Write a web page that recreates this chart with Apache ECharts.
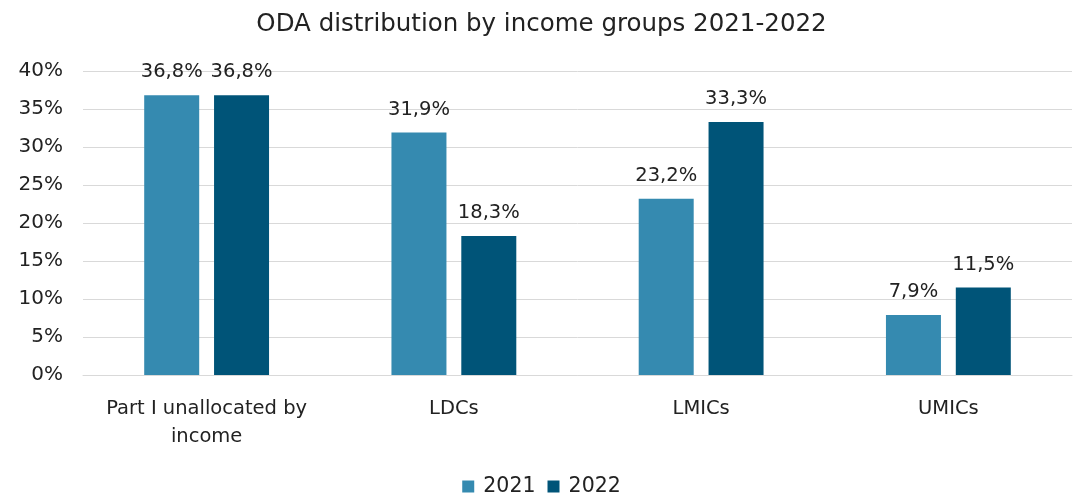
<!DOCTYPE html>
<html><head><meta charset="utf-8">
<script src="https://cdn.jsdelivr.net/npm/echarts@6/dist/echarts.min.js"></script>
<style>html,body{margin:0;padding:0;background:#fff}#c{width:1083px;height:500px}</style>
</head><body><div id="c"></div>
<script>
const categories = ['Part I unallocated by\nincome', 'LDCs', 'LMICs', 'UMICs'];
const seriesNames = ['2021', '2022'];
const values2021 = [36.8, 31.9, 23.2, 7.9];
const values2022 = [36.8, 18.3, 33.3, 11.5];
const titleText = 'ODA distribution by income groups 2021-2022';

const font = '"DejaVu Sans", "Noto Sans", sans-serif';
const fmt = v => v.toFixed(1).replace('.', ',') + '%';
const chart = echarts.init(document.getElementById('c'));
const lbl = {show: true, position: 'top', distance: 13, color: '#222', fontSize: 19.5, fontFamily: font,
  formatter: p => fmt(p.value)};
chart.setOption({
  animation: false,
  title: {text: titleText, left: 'center', top: 7,
    textStyle: {fontFamily: font, fontSize: 24.5, fontWeight: 'normal', color: '#222'}},
  legend: {bottom: -2, left: 'center', itemWidth: 12, itemHeight: 12, itemGap: 12,
    icon: 'rect', formatter: n => '\u2009' + n,
    textStyle: {fontFamily: font, fontSize: 20.5, color: '#222'}},
  grid: {left: 83, right: 11, top: 71, bottom: 125, containLabel: false},
  xAxis: {type: 'category', data: categories,
    axisLine: {lineStyle: {color: '#d9d9d9'}}, axisTick: {show: false},
    axisLabel: {interval: 0, fontFamily: font, fontSize: 19.5, color: '#222', margin: 20, lineHeight: 28}},
  yAxis: {type: 'value', min: 0, max: 40, interval: 5,
    axisLabel: {formatter: '{value}%', fontFamily: font, fontSize: 20, color: '#222', margin: 20, align: 'right'},
    splitLine: {lineStyle: {color: '#d9d9d9', width: 1}}, axisLine: {show: false}},
  series: [
    {name: seriesNames[0], type: 'bar', data: values2021, barWidth: 55, barGap: '27%',
     itemStyle: {color: '#358AB0'}, label: lbl},
    {name: seriesNames[1], type: 'bar', data: values2022, barWidth: 55,
     itemStyle: {color: '#005478'}, label: lbl}
  ]
});
</script></body></html>
